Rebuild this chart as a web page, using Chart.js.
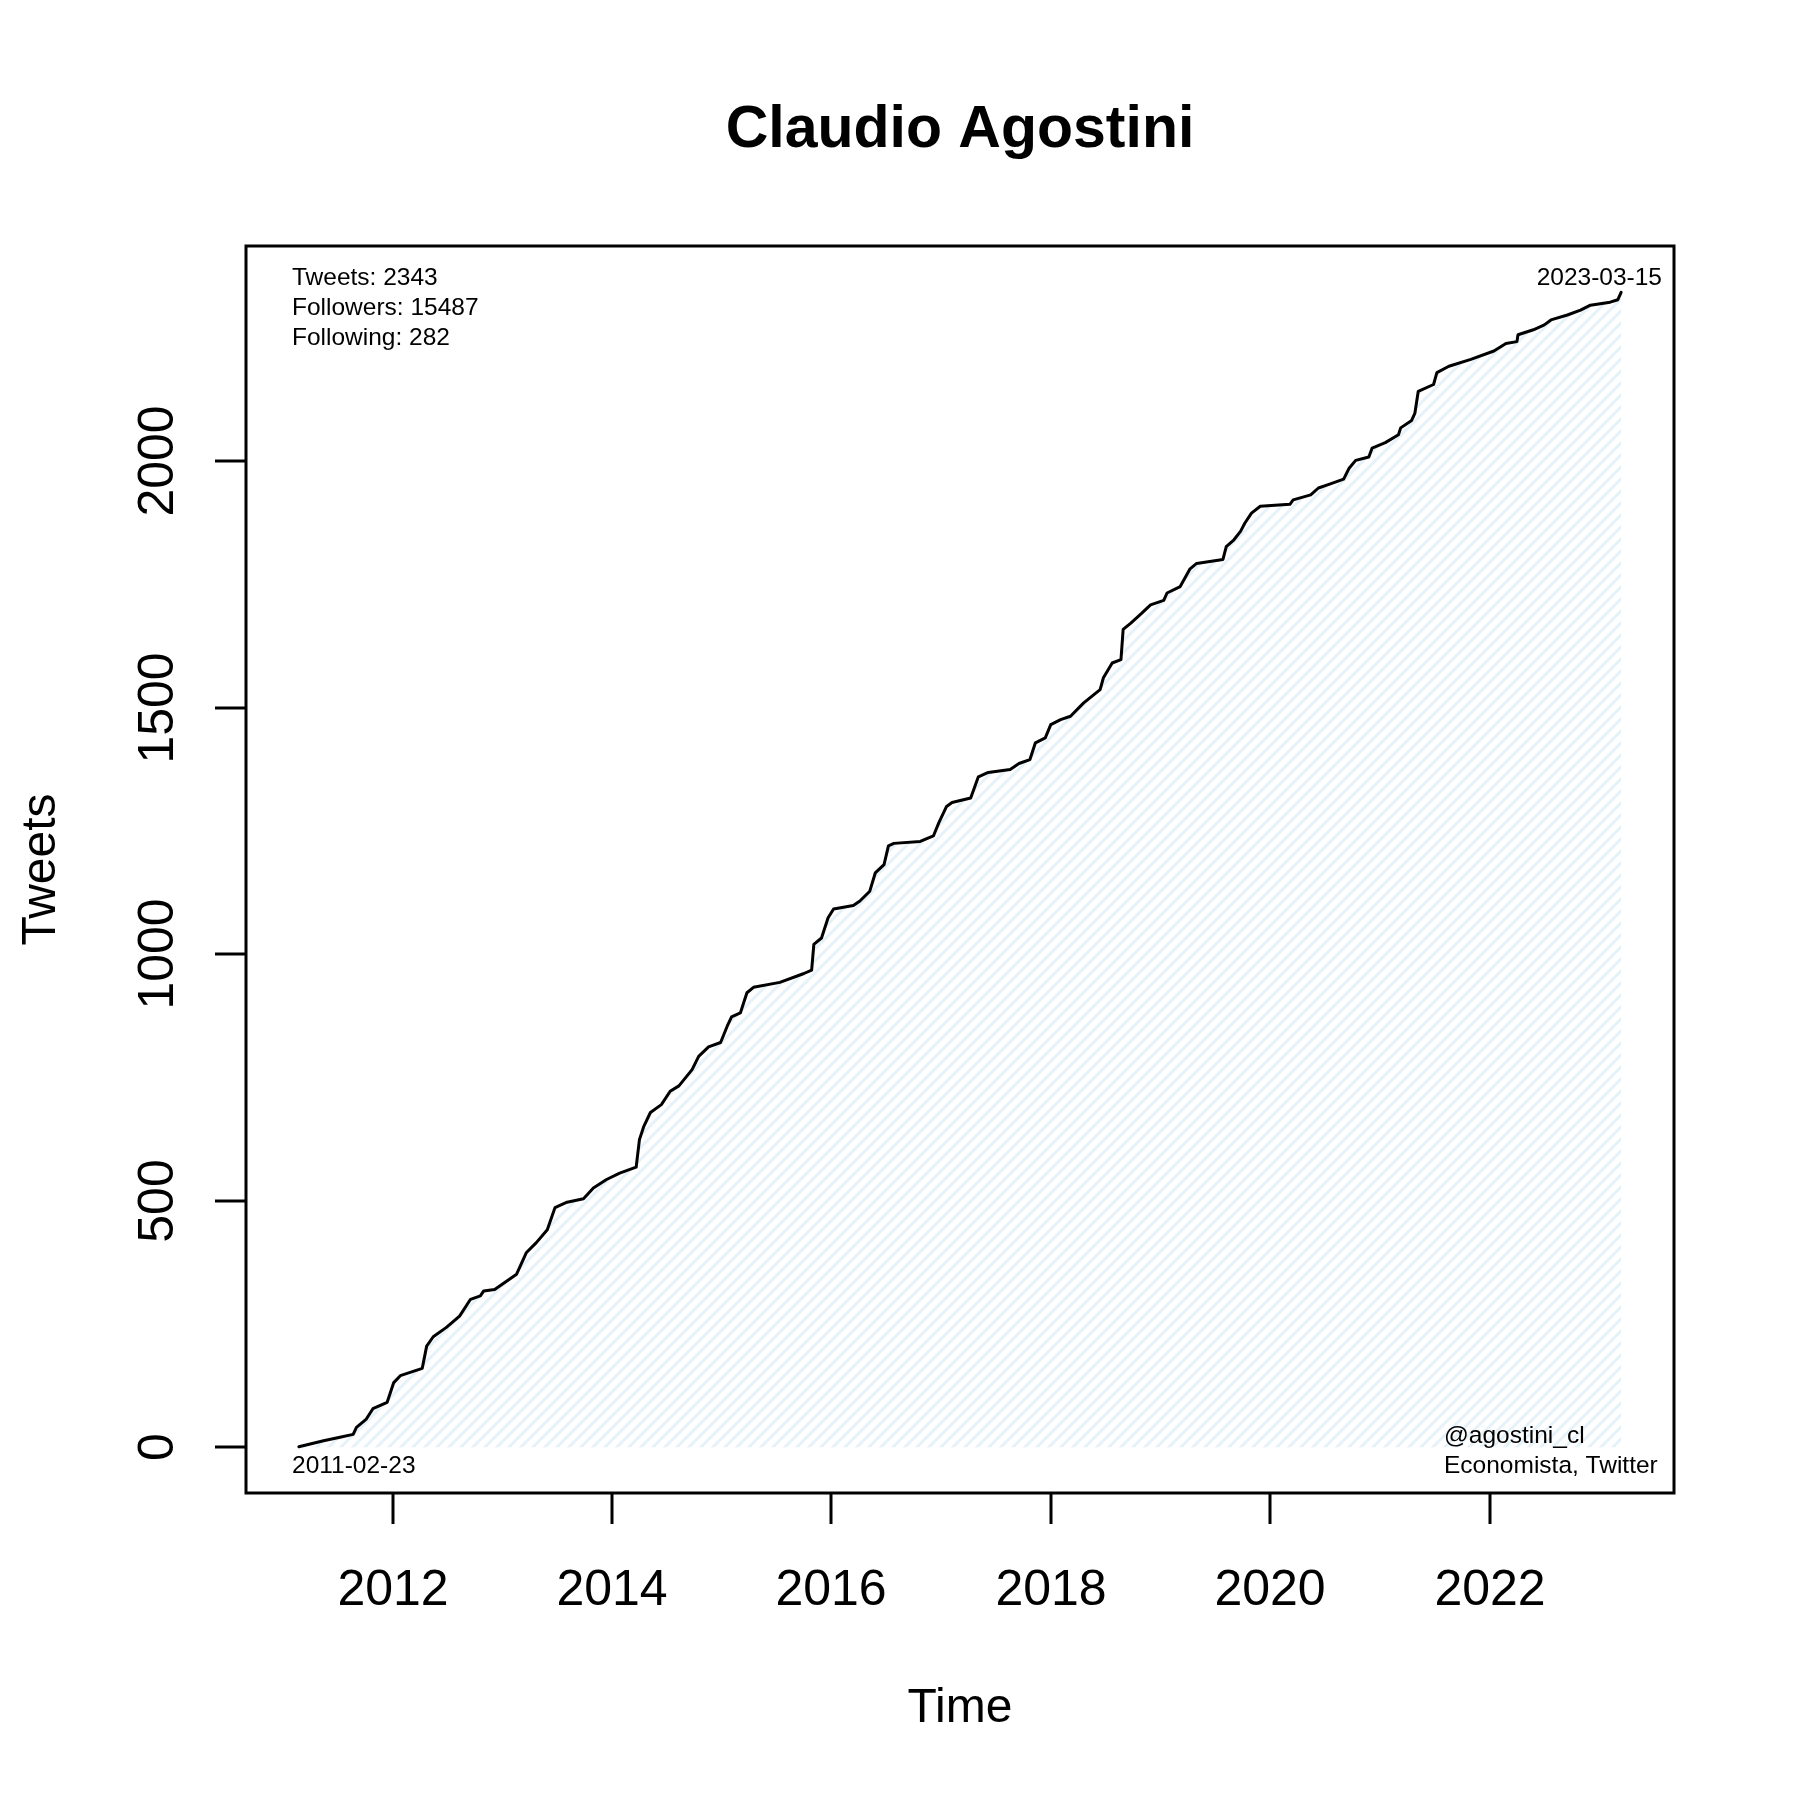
<!DOCTYPE html>
<html>
<head>
<meta charset="utf-8">
<title>Claudio Agostini</title>
<script src="https://cdn.jsdelivr.net/npm/chart.js@4.4.1/dist/chart.umd.min.js"></script>
<style>
  html, body { margin: 0; padding: 0; background: #fff; }
  #chart { display: block; }
</style>
</head>
<body>
<canvas id="chart" width="1800" height="1800"></canvas>
<script>
// cumulative tweet count (decimal years)
const dates = [
    2011.145, 2011.37, 2011.52, 2011.64, 2011.67, 2011.76, 2011.82, 2011.95,
    2012.01, 2012.07, 2012.27, 2012.31, 2012.37, 2012.49, 2012.61, 2012.71, 2012.80, 2012.83, 2012.93,
    2013.13, 2013.22, 2013.31, 2013.41, 2013.48, 2013.59, 2013.74, 2013.83, 2013.95,
    2014.07, 2014.22, 2014.25, 2014.29, 2014.35, 2014.45, 2014.53, 2014.61, 2014.73, 2014.79, 2014.88, 2014.99,
    2015.05, 2015.09, 2015.17, 2015.23, 2015.29, 2015.53, 2015.75, 2015.82, 2015.84, 2015.91, 2015.97,
    2016.02, 2016.20, 2016.26, 2016.35, 2016.40, 2016.48, 2016.52, 2016.57, 2016.81, 2016.93, 2016.98,
    2017.05, 2017.10, 2017.27, 2017.34, 2017.43, 2017.63, 2017.71, 2017.81, 2017.86, 2017.95,
    2018.00, 2018.09, 2018.18, 2018.30, 2018.45, 2018.48, 2018.56, 2018.64, 2018.66, 2018.73, 2018.83, 2018.91,
    2019.03, 2019.06, 2019.18, 2019.27, 2019.33, 2019.57, 2019.60, 2019.67, 2019.73, 2019.77, 2019.83, 2019.91,
    2020.18, 2020.21, 2020.37, 2020.44, 2020.53, 2020.67, 2020.72, 2020.78, 2020.90, 2020.93,
    2021.05, 2021.17, 2021.19, 2021.29, 2021.32, 2021.35, 2021.49, 2021.52, 2021.63, 2021.83,
    2022.04, 2022.15, 2022.25, 2022.26, 2022.40, 2022.50, 2022.56, 2022.71, 2022.83, 2022.92,
    2023.10, 2023.17, 2023.20
];
const tweets = [
    1, 13, 20, 26, 40, 57, 78, 91,
    131, 145, 160, 205, 224, 243, 266, 300, 307, 317, 320,
    351, 395, 415, 441, 486, 497, 504, 526, 543,
    556, 568, 624, 651, 679, 695, 722, 733, 766, 793, 812, 821,
    854, 873, 881, 922, 933, 943, 961, 968, 1020, 1033, 1074,
    1092, 1099, 1108, 1128, 1165, 1182, 1220, 1225, 1229, 1240, 1267,
    1300, 1308, 1317, 1360, 1369, 1375, 1387, 1395, 1429, 1439,
    1466, 1476, 1483, 1510, 1537, 1561, 1591, 1598, 1659, 1672, 1692, 1709,
    1718, 1733, 1746, 1782, 1793, 1801, 1827, 1841, 1858, 1875, 1895, 1909,
    1913, 1922, 1932, 1946, 1953, 1964, 1986, 2002, 2009, 2027,
    2038, 2054, 2068, 2083, 2098, 2142, 2156, 2180, 2193, 2207,
    2224, 2239, 2243, 2257, 2267, 2277, 2287, 2297, 2307, 2317,
    2323, 2328, 2343
];

const xTicks = [2012, 2014, 2016, 2018, 2020, 2022];
const yTicks = [0, 500, 1000, 1500, 2000];

const titleText = "Claudio Agostini";
const xTitle = "Time";
const yTitle = "Tweets";
const statNotes = ["Tweets: 2343", "Followers: 15487", "Following: 282"];
const firstDate = "2011-02-23";
const lastDate = "2023-03-15";
const creditNotes = ["@agostini_cl", "Economista, Twitter"];

const FONT = "'Liberation Sans', Arial, Helvetica, sans-serif";

const canvas = document.getElementById("chart");
const ctx = canvas.getContext("2d");

// pale blue diagonal hatching, like R's density shading
function hatchPattern() {
    const size = 12;
    const tile = document.createElement("canvas");
    tile.width = size;
    tile.height = size;
    const g = tile.getContext("2d");
    g.strokeStyle = "#e6f2f9";
    g.lineWidth = 3;
    g.beginPath();
    g.moveTo(-2, size + 2); g.lineTo(size + 2, -2);
    g.moveTo(-3, 3); g.lineTo(3, -3);
    g.moveTo(size - 3, size + 3); g.lineTo(size + 3, size - 3);
    g.stroke();
    return ctx.createPattern(tile, "repeat");
}

const rFrame = {
    id: "rFrame",
    beforeDraw(chart) {
        const c = chart.ctx;
        c.save();
        c.fillStyle = "#ffffff";
        c.fillRect(0, 0, chart.width, chart.height);
        c.restore();
    },
    afterDraw(chart) {
        const c = chart.ctx;
        const area = chart.chartArea;
        const xs = chart.scales.x;
        const ys = chart.scales.y;
        c.save();
        c.strokeStyle = "#000";
        c.fillStyle = "#000";
        c.lineWidth = 3;
        c.lineCap = "butt";

        // box
        c.strokeRect(area.left, area.top, area.right - area.left, area.bottom - area.top);

        // x axis ticks + labels
        c.font = "50px " + FONT;
        c.textAlign = "center";
        c.textBaseline = "alphabetic";
        xTicks.forEach((t) => {
            const px = Math.round(xs.getPixelForValue(t));
            c.beginPath();
            c.moveTo(px, area.bottom);
            c.lineTo(px, area.bottom + 31);
            c.stroke();
            c.fillText(String(t), px, 1605);
        });

        // y axis ticks + rotated labels
        yTicks.forEach((t) => {
            const py = Math.round(ys.getPixelForValue(t));
            c.beginPath();
            c.moveTo(area.left, py);
            c.lineTo(area.left - 31, py);
            c.stroke();
            c.save();
            c.translate(173, py);
            c.rotate(-Math.PI / 2);
            c.fillText(String(t), 0, 0);
            c.restore();
        });

        // titles
        const midX = (area.left + area.right) / 2;
        const midY = (area.top + area.bottom) / 2;
        c.font = "bold 59px " + FONT;
        c.fillText(titleText, midX, 147);
        c.font = "48px " + FONT;
        c.fillText(xTitle, midX, 1722);
        c.save();
        c.translate(55, midY);
        c.rotate(-Math.PI / 2);
        c.fillText(yTitle, 0, 0);
        c.restore();

        // notes inside the plot
        c.font = "24.5px " + FONT;
        c.textAlign = "left";
        statNotes.forEach((s, i) => c.fillText(s, 292, 285 + i * 30));
        c.fillText(firstDate, 292, 1473);
        creditNotes.forEach((s, i) => c.fillText(s, 1444, 1443 + i * 30));
        c.textAlign = "right";
        c.fillText(lastDate, 1662, 285);
        c.restore();
    }
};

new Chart(ctx, {
    type: "line",
    data: {
        datasets: [{
            data: dates.map((d, i) => ({ x: d, y: tweets[i] })),
            borderColor: "#000000",
            borderWidth: 3,
            borderJoinStyle: "round",
            borderCapStyle: "round",
            pointRadius: 0,
            tension: 0,
            fill: { value: 0 },
            backgroundColor: hatchPattern()
        }]
    },
    options: {
        responsive: false,
        devicePixelRatio: 1,
        animation: false,
        events: [],
        layout: { padding: { left: 246, right: 126, top: 246, bottom: 307 } },
        scales: {
            x: { type: "linear", min: 2010.663, max: 2023.682, display: false },
            y: { type: "linear", min: -93, max: 2437, display: false }
        },
        plugins: {
            legend: { display: false },
            tooltip: { enabled: false },
            title: { display: false }
        }
    },
    plugins: [rFrame]
});
</script>
</body>
</html>
